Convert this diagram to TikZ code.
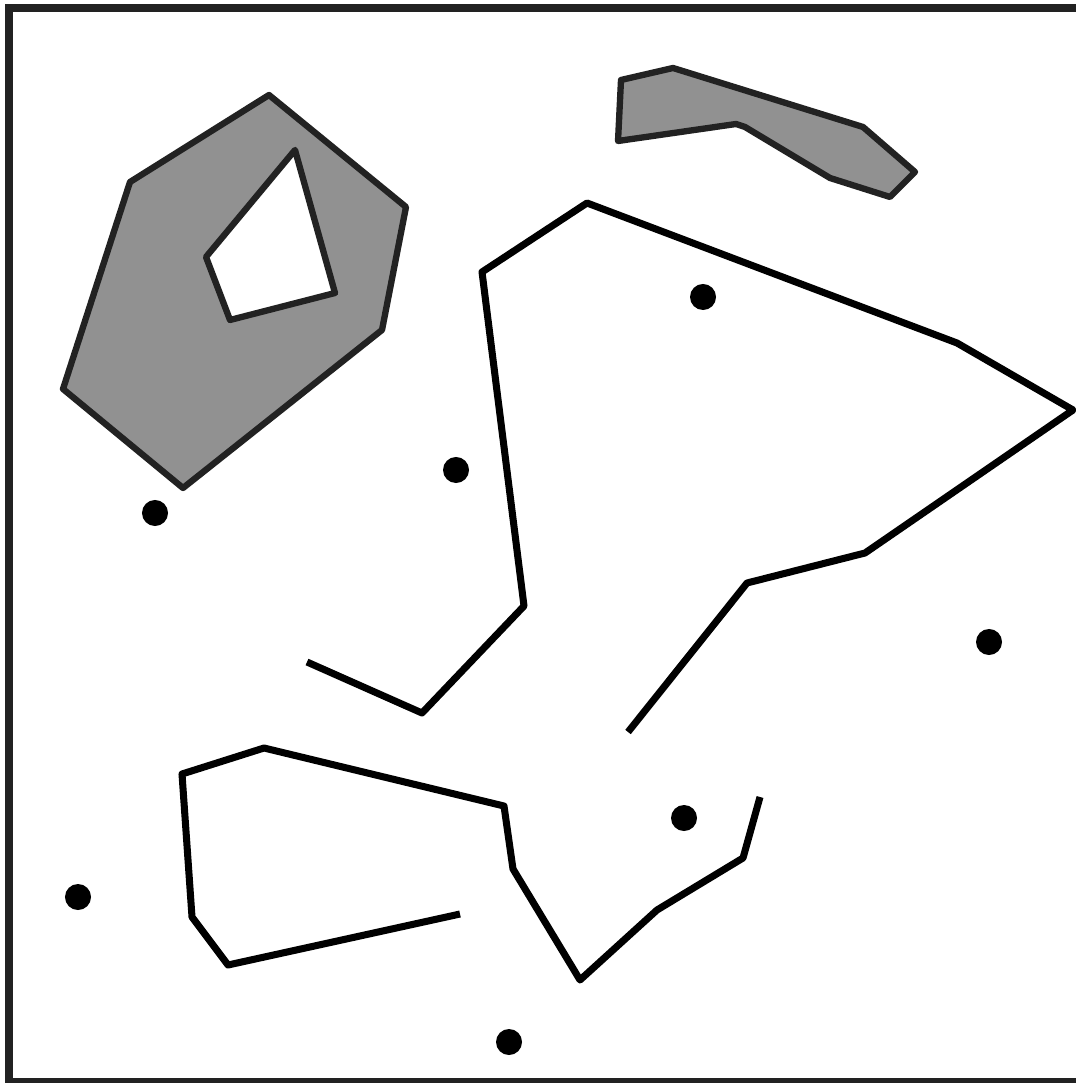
\documentclass[tikz,border=0pt]{standalone}
\usepackage{tikz}

\definecolor{frameGray}{HTML}{222222}
\definecolor{fillGray}{HTML}{919191}

\begin{document}
\begin{tikzpicture}[x=0.01cm, y=-0.01cm,
obstacle/.style={draw=frameGray, fill=fillGray, line width=1.8pt, line join=round, even odd rule} ,
wall/.style={draw=black, line width=2pt, line join=round} ,
site/.style={circle, fill=black, inner sep=0pt, minimum size=0.26cm}
]
\useasboundingbox (0,0) rectangle (1075,1083);
\draw [frameGray, line width=2.3pt] (9,8) rectangle (1090,1082);

% shaded obstacles
\draw [obstacle] (269,95) -- (406,207) -- (382,330) -- (183,488) -- (63,389) -- (130,182) -- cycle
    (295,150) -- (335,293) -- (230,320) -- (206,257) -- cycle;
\draw [obstacle] (621,80) -- (673,68) -- (863,127) -- (915,172) -- (890,197) -- (830,178)
    -- (745,127) -- (736,124) -- (618,141) -- cycle;

% open walls
\draw [wall] (628,732) -- (747,583) -- (865,553) -- (1073,410) -- (957,343) -- (587,203)
    -- (482,272) -- (524,606) -- (422,713) -- (307,662);
\draw [wall] (760,797) -- (743,858) -- (657,910) -- (580,980) -- (513,869) -- (504,806)
    -- (264,748) -- (182,774) -- (192,917) -- (228,965) -- (460,914);

% sites
\node [site] (s1) at (703,297) {};
\node [site] (s2) at (456,470) {};
\node [site] (s3) at (155,513) {};
\node [site] (s4) at (989,642) {};
\node [site] (s5) at (684,818) {};
\node [site] (s6) at (78,897) {};
\node [site] (s7) at (509,1042) {};
\end{tikzpicture}
\end{document}
